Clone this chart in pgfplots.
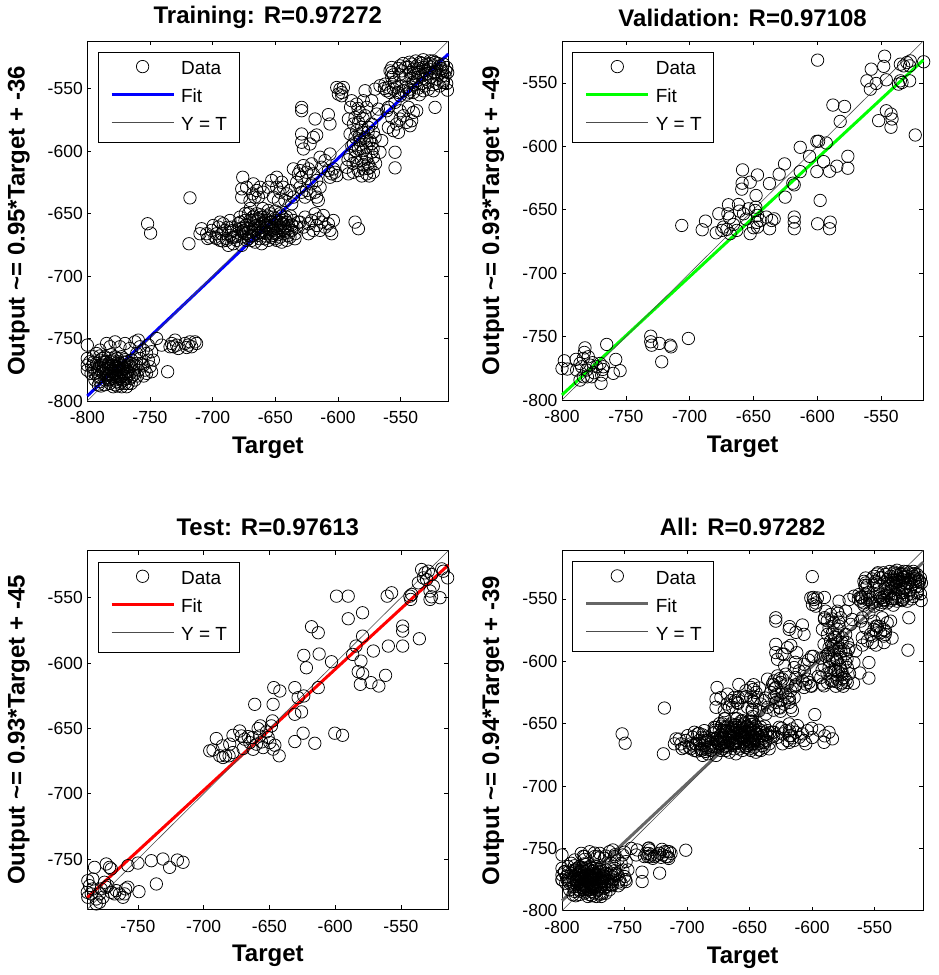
\documentclass[border=0pt]{standalone}
\usepackage{pgfplots}
\pgfplotsset{compat=1.18}
\usepackage{pgfplotstable}
\usepackage{fontspec}
\setmainfont{Liberation Sans}
\setsansfont{Liberation Sans}

\pgfplotstableread{
x y
-557.1 -533.2
-557.1 -537.2
-557.1 -541.2
-558.5 -535.9
-555.8 -539.1
-550.5 -531.9
-549.2 -535.9
-541.2 -530.5
-539.9 -534.5
-537.2 -531.9
-535.9 -537.2
-534.5 -529.2
-531.9 -533.2
-530.5 -535.9
-529.2 -530.5
-527.9 -534.5
-526.6 -527.9
-525.2 -537.2
-523.9 -531.9
-522.6 -529.2
-521.2 -534.5
-519.9 -538.5
-518.6 -531.9
-517.2 -535.9
-515.9 -530.5
-514.6 -539.9
-513.3 -533.2
-512.5 -537.2
-533.2 -539.9
-530.5 -542.5
-537.2 -543.8
-542.5 -537.2
-538.5 -539.9
-526.6 -541.2
-521.2 -542.5
-515.9 -543.8
-512.7 -551.3
-513.3 -546.0
-522.6 -565.1
-544.0 -533.0
-540.0 -538.0
-536.0 -534.0
-533.0 -530.0
-529.0 -538.0
-526.0 -533.0
-523.0 -537.0
-520.0 -530.0
-517.0 -540.0
-528.0 -545.0
-533.0 -546.0
-540.0 -545.0
-521.0 -546.0
-546.0 -540.0
-551.0 -539.0
-514.0 -536.0
-548.0 -530.0
-543.0 -529.0
-538.0 -528.0
-532.0 -527.0
-527.0 -530.0
-524.0 -528.0
-518.0 -534.0
-516.0 -545.0
-519.0 -548.0
-524.0 -547.0
-531.0 -548.0
-536.0 -541.0
-541.0 -542.0
-546.0 -533.0
-552.0 -534.0
-555.0 -545.0
-563.0 -550.0
-549.0 -548.0
-543.0 -553.0
-535.0 -555.0
-570.4 -550.5
-566.5 -547.8
-562.5 -546.5
-559.8 -549.2
-561.1 -551.8
-558.5 -553.2
-555.8 -550.5
-553.2 -549.2
-551.8 -553.2
-547.8 -551.8
-545.2 -549.2
-542.5 -550.5
-539.9 -553.2
-535.9 -549.7
-531.9 -551.8
-527.9 -550.5
-523.9 -551.8
-538.5 -547.0
-545.2 -554.5
-550.5 -555.8
-559.8 -565.1
-561.1 -567.8
-557.1 -573.1
-559.8 -581.1
-555.8 -583.7
-553.2 -578.4
-550.5 -574.4
-547.8 -571.8
-545.2 -577.1
-542.5 -579.8
-541.2 -575.8
-539.9 -569.1
-537.2 -567.8
-550.5 -567.8
-554.5 -561.1
-543.8 -565.1
-551.8 -585.1
-566.5 -601.0
-554.5 -601.0
-554.5 -613.5
-601.0 -549.2
-598.4 -550.5
-597.0 -553.2
-595.7 -549.2
-599.7 -554.5
-597.0 -555.8
-589.1 -559.8
-585.1 -562.5
-579.8 -559.8
-577.1 -565.1
-582.4 -569.1
-578.4 -571.8
-586.4 -573.1
-591.7 -574.4
-587.7 -578.4
-583.7 -577.1
-581.1 -581.1
-585.1 -583.7
-579.8 -585.1
-575.8 -581.1
-573.1 -578.4
-571.8 -585.1
-590.4 -586.4
-586.4 -589.1
-582.4 -591.7
-578.4 -589.1
-574.4 -591.7
-570.4 -589.1
-587.7 -594.4
-583.7 -598.4
-579.8 -599.7
-577.1 -597.0
-573.1 -601.0
-590.4 -603.7
-586.4 -605.0
-581.1 -607.7
-577.1 -606.4
-571.8 -605.0
-591.7 -618.3
-587.7 -617.0
-583.7 -615.7
-579.8 -614.3
-577.1 -618.3
-574.4 -613.0
-593.0 -613.0
-571.8 -617.0
-575.8 -610.3
-567.8 -566.5
-569.1 -570.4
-573.1 -559.8
-565.1 -591.7
-578.4 -551.8
-584.0 -566.0
-580.0 -574.0
-576.0 -585.0
-582.0 -595.0
-586.0 -600.0
-578.0 -603.0
-573.0 -594.0
-588.0 -610.0
-580.0 -611.0
-575.0 -620.0
-590.0 -565.0
-583.0 -588.0
-577.0 -592.0
-572.0 -598.0
-589.0 -596.0
-585.0 -609.0
-576.0 -614.0
-570.0 -610.0
-592.0 -607.0
-581.0 -620.0
-618.3 -574.4
-607.7 -570.9
-606.4 -578.4
-617.0 -587.2
-629.0 -565.1
-629.0 -567.8
-629.0 -586.4
-629.0 -593.0
-627.6 -598.4
-622.3 -594.4
-619.7 -589.1
-614.3 -605.0
-613.0 -613.0
-621.0 -610.3
-610.3 -607.7
-606.4 -602.4
-607.7 -615.7
-605.0 -618.3
-602.4 -617.0
-601.0 -619.7
-606.4 -621.0
-603.7 -614.3
-635.6 -614.3
-631.6 -618.3
-630.3 -615.7
-627.6 -611.7
-625.0 -617.0
-629.0 -621.0
-633.0 -625.0
-623.6 -614.3
-619.7 -618.3
-617.0 -623.6
-621.0 -626.3
-625.0 -631.6
-622.3 -634.3
-618.3 -633.0
-617.0 -636.9
-629.0 -633.0
-626.3 -636.9
-630.3 -629.0
-614.3 -629.0
-615.7 -639.6
-652.9 -623.6
-648.9 -621.0
-644.9 -625.0
-648.9 -629.0
-646.3 -633.0
-643.6 -629.0
-640.9 -634.3
-638.3 -631.6
-651.6 -636.9
-647.6 -639.6
-642.3 -639.6
-655.6 -629.0
-659.6 -633.0
-662.2 -629.0
-664.9 -631.6
-667.5 -626.3
-663.5 -636.9
-666.2 -636.9
-635.6 -636.9
-636.9 -642.3
-676.0 -621.0
-676.8 -630.3
-676.8 -636.9
-670.2 -639.6
-672.9 -629.0
-668.1 -634.3
-718.1 -637.5
-751.9 -658.2
-749.5 -665.7
-718.9 -674.2
-708.8 -662.2
-704.8 -666.2
-700.8 -663.5
-698.1 -668.9
-695.5 -660.9
-692.8 -666.2
-690.1 -663.5
-688.8 -671.5
-686.2 -667.5
-684.8 -660.9
-683.5 -674.2
-680.8 -664.9
-679.5 -658.2
-678.2 -652.9
-676.8 -668.9
-675.5 -660.9
-674.2 -655.6
-672.9 -666.2
-671.5 -650.2
-670.2 -660.9
-668.9 -671.5
-667.5 -655.6
-666.2 -663.5
-664.9 -650.2
-663.5 -667.5
-662.2 -658.2
-660.9 -652.9
-659.6 -663.5
-658.2 -670.2
-656.9 -655.6
-655.6 -647.6
-654.2 -660.9
-652.9 -666.2
-651.6 -652.9
-650.2 -658.2
-648.9 -671.5
-647.6 -663.5
-646.3 -650.2
-644.9 -655.6
-643.6 -666.2
-642.3 -660.9
-640.9 -652.9
-639.6 -659.6
-638.3 -668.9
-636.9 -663.5
-635.6 -655.6
-634.3 -666.2
-633.0 -660.9
-631.6 -656.9
-672.9 -671.5
-667.5 -667.5
-662.2 -670.2
-656.9 -666.2
-651.6 -663.5
-646.3 -668.9
-640.9 -671.5
-680.8 -671.5
-675.5 -663.5
-670.2 -655.6
-664.9 -659.6
-659.6 -652.9
-654.2 -650.2
-648.9 -655.6
-643.6 -658.2
-683.5 -663.5
-686.2 -655.6
-691.5 -658.2
-696.8 -666.2
-699.5 -659.6
-702.1 -668.9
-694.1 -671.5
-687.5 -675.5
-682.2 -668.9
-676.8 -675.5
-671.5 -670.2
-666.2 -672.9
-660.9 -674.2
-655.6 -671.5
-650.2 -670.2
-644.9 -672.9
-639.6 -667.5
-634.3 -670.2
-694.1 -656.9
-710.1 -666.2
-663.5 -654.2
-658.2 -659.6
-652.9 -656.9
-647.6 -659.6
-668.9 -664.9
-658.2 -664.9
-651.6 -667.5
-663.5 -662.2
-674.2 -666.2
-642.3 -663.5
-677.0 -662.0
-673.0 -659.0
-669.0 -668.0
-665.0 -656.0
-661.0 -665.0
-657.0 -661.0
-653.0 -669.0
-649.0 -662.0
-645.0 -652.0
-641.0 -657.0
-637.0 -659.0
-667.0 -652.0
-662.0 -661.0
-658.0 -657.0
-654.0 -663.0
-650.0 -666.0
-646.0 -661.0
-680.0 -668.0
-685.0 -664.0
-689.0 -670.0
-678.0 -657.0
-676.0 -665.0
-674.0 -650.0
-672.0 -662.0
-670.0 -668.0
-668.0 -653.0
-666.0 -660.0
-664.0 -666.0
-662.0 -651.0
-660.0 -658.0
-658.0 -668.0
-656.0 -652.0
-654.0 -657.0
-652.0 -661.0
-650.0 -654.0
-648.0 -667.0
-646.0 -657.0
-644.0 -663.0
-642.0 -655.0
-640.0 -665.0
-638.0 -652.0
-636.0 -660.0
-670.0 -646.0
-660.0 -646.0
-650.0 -648.0
-684.0 -669.0
-688.0 -661.0
-692.0 -672.0
-697.0 -670.0
-704.0 -670.0
-630.3 -656.9
-627.6 -660.9
-626.3 -652.9
-623.6 -658.2
-621.0 -655.6
-619.7 -663.5
-617.0 -659.6
-615.7 -654.2
-613.0 -656.9
-611.7 -651.6
-610.3 -660.9
-607.7 -658.2
-606.4 -663.5
-605.0 -666.2
-618.3 -650.2
-623.6 -666.2
-614.3 -663.5
-603.7 -655.6
-586.4 -656.9
-583.7 -662.2
-800.0 -755.3
-800.0 -766.0
-800.0 -771.3
-800.0 -775.3
-797.9 -768.6
-796.5 -772.6
-795.2 -764.6
-793.9 -777.9
-792.6 -769.9
-791.2 -773.9
-789.9 -767.3
-789.9 -780.6
-788.6 -776.6
-787.2 -771.3
-785.9 -764.6
-785.9 -783.2
-784.6 -773.9
-783.2 -779.3
-781.9 -768.6
-781.9 -785.9
-780.6 -775.3
-779.3 -771.3
-779.3 -781.9
-777.9 -764.6
-777.9 -777.9
-776.6 -772.6
-776.6 -784.6
-775.3 -768.6
-775.3 -780.6
-773.9 -775.3
-773.9 -785.9
-772.6 -771.3
-772.6 -764.6
-771.3 -779.3
-771.3 -783.2
-769.9 -773.9
-768.6 -768.6
-768.6 -780.6
-767.3 -776.6
-767.3 -785.9
-766.0 -772.6
-764.6 -767.3
-764.6 -780.6
-763.3 -775.3
-762.0 -783.2
-784.6 -754.0
-781.9 -756.6
-777.9 -752.7
-773.9 -756.6
-769.9 -754.0
-766.0 -758.0
-762.0 -752.7
-759.3 -751.3
-758.0 -756.6
-755.3 -759.3
-752.7 -762.0
-751.3 -767.3
-750.0 -772.6
-748.7 -776.6
-758.0 -766.0
-755.3 -771.3
-754.0 -775.3
-751.3 -755.3
-748.7 -760.6
-747.3 -767.3
-752.7 -777.9
-760.6 -769.9
-759.3 -775.3
-789.9 -759.3
-792.6 -762.0
-793.9 -783.2
-791.2 -787.2
-760.6 -762.0
-789.9 -784.6
-779.3 -788.6
-772.6 -788.6
-768.6 -788.6
-789.9 -772.6
-787.2 -777.9
-784.6 -768.6
-783.2 -783.2
-780.6 -771.3
-777.9 -773.9
-776.6 -779.3
-775.3 -775.3
-773.9 -769.9
-772.6 -780.6
-771.3 -773.9
-769.9 -777.9
-781.9 -777.9
-779.3 -776.6
-785.9 -775.3
-788.6 -771.3
-783.2 -772.6
-780.6 -780.6
-777.9 -783.2
-775.3 -771.3
-767.3 -771.3
-766.0 -777.9
-794.0 -775.0
-791.0 -781.0
-788.0 -766.0
-786.0 -787.0
-784.0 -781.0
-782.0 -774.0
-781.0 -763.0
-779.0 -767.0
-778.0 -787.0
-776.0 -766.0
-774.0 -782.0
-773.0 -777.0
-771.0 -769.0
-770.0 -786.0
-768.0 -773.0
-766.0 -782.0
-765.0 -770.0
-763.0 -779.0
-761.0 -772.0
-787.0 -774.0
-783.0 -770.0
-777.0 -781.0
-775.0 -773.0
-772.0 -775.0
-769.0 -782.0
-797.0 -778.0
-795.0 -769.0
-792.0 -777.0
-790.0 -764.0
-789.0 -788.0
-786.0 -769.0
-785.0 -779.0
-782.0 -783.0
-780.0 -768.0
-778.0 -776.0
-776.0 -788.0
-774.0 -771.0
-772.0 -784.0
-770.0 -767.0
-768.0 -777.0
-765.0 -786.0
-763.0 -771.0
-760.0 -780.0
-757.0 -770.0
-755.0 -780.0
-740.7 -755.3
-735.9 -776.6
-744.7 -750.0
-732.7 -754.0
-731.4 -756.6
-730.0 -751.3
-728.7 -755.3
-727.4 -758.0
-734.0 -756.6
-722.1 -754.0
-719.4 -755.3
-718.1 -752.7
-716.7 -756.6
-714.1 -752.7
-712.8 -754.0
-720.7 -757.2
}\trainData

\pgfplotstableread{
x y
-599.8 -532.1
-547.3 -529.0
-557.8 -539.2
-548.0 -537.0
-561.2 -548.4
-558.5 -555.0
-553.9 -550.5
-546.0 -547.6
-535.0 -535.3
-532.4 -536.6
-529.8 -534.0
-527.2 -532.7
-527.7 -536.6
-535.0 -548.4
-536.4 -551.0
-533.7 -549.7
-527.7 -548.4
-516.7 -533.4
-523.3 -591.1
-552.0 -579.8
-546.0 -572.0
-542.3 -574.6
-541.5 -578.5
-542.3 -585.0
-587.8 -567.5
-578.7 -568.6
-582.1 -580.4
-613.4 -600.8
-600.4 -596.1
-599.0 -596.0
-593.0 -597.4
-606.1 -607.9
-595.1 -612.1
-600.4 -620.0
-590.4 -619.7
-584.7 -615.7
-576.1 -607.9
-576.1 -617.3
-625.7 -613.9
-613.4 -620.0
-629.9 -622.0
-619.2 -629.1
-618.1 -630.4
-625.2 -640.1
-637.5 -629.4
-646.9 -622.6
-648.0 -638.8
-658.6 -618.6
-658.9 -629.1
-659.2 -633.8
-652.6 -628.3
-597.8 -642.7
-599.8 -661.1
-589.9 -659.8
-590.4 -665.0
-618.1 -655.8
-618.1 -659.8
-618.1 -665.0
-677.2 -653.2
-687.6 -659.0
-690.2 -665.8
-679.2 -668.2
-673.5 -663.7
-669.6 -646.1
-670.1 -653.2
-668.8 -656.4
-670.9 -665.5
-668.3 -668.9
-674.8 -666.3
-661.8 -645.9
-661.0 -651.1
-657.8 -653.2
-655.8 -657.4
-652.6 -668.9
-648.2 -648.0
-648.7 -650.6
-646.9 -654.5
-647.4 -660.0
-644.8 -658.5
-639.9 -655.8
-637.4 -665.0
-635.7 -658.5
-633.8 -657.2
-663.1 -666.3
-653.9 -649.3
-650.0 -664.2
-646.9 -663.7
-706.2 -662.4
-665.7 -661.6
-730.5 -749.7
-730.5 -754.1
-729.7 -756.8
-723.7 -755.4
-715.3 -756.8
-714.6 -758.1
-701.0 -751.5
-721.9 -769.9
-765.0 -756.2
-798.2 -769.1
-800.0 -775.1
-795.8 -775.6
-789.0 -768.0
-785.9 -771.2
-782.0 -758.9
-782.5 -762.5
-783.3 -767.2
-784.6 -773.8
-780.7 -776.4
-778.1 -772.5
-776.0 -770.6
-780.1 -781.7
-783.3 -781.7
-785.9 -784.3
-776.7 -781.7
-774.9 -778.5
-772.8 -773.8
-770.2 -771.2
-768.1 -775.9
-768.9 -780.3
-769.4 -786.9
-767.6 -773.8
-759.8 -779.0
-757.9 -768.0
-754.5 -776.9
-788.5 -776.4
-779.4 -765.9
}\valData

\pgfplotstableread{
x y
-534.3 -528.4
-531.7 -531.0
-529.2 -529.7
-526.7 -532.2
-533.0 -534.8
-536.8 -538.6
-530.5 -536.1
-519.0 -527.9
-517.8 -529.7
-514.5 -534.8
-525.4 -541.1
-527.9 -544.9
-526.7 -549.3
-527.9 -551.3
-520.3 -550.0
-543.2 -548.8
-542.6 -551.3
-541.8 -547.5
-557.1 -546.2
-560.5 -548.8
-599.0 -548.8
-590.1 -548.8
-590.1 -566.1
-579.2 -561.5
-579.2 -579.4
-548.7 -571.7
-548.7 -575.5
-548.7 -587.0
-559.6 -587.0
-536.0 -581.4
-571.0 -590.8
-584.2 -587.0
-586.7 -593.4
-580.4 -598.5
-582.5 -606.6
-579.1 -608.1
-580.9 -616.3
-572.8 -615.0
-566.8 -617.6
-561.7 -609.4
-602.8 -599.0
-618.0 -572.2
-612.9 -576.8
-623.9 -594.1
-612.2 -593.1
-621.9 -603.6
-612.9 -618.8
-630.7 -618.8
-628.2 -626.5
-623.9 -625.2
-625.6 -637.4
-630.7 -639.2
-642.1 -621.4
-646.7 -618.8
-661.2 -631.6
-647.2 -631.6
-600.3 -653.7
-594.4 -655.3
-624.4 -653.7
-630.7 -660.1
-615.5 -661.4
-695.4 -667.2
-690.4 -657.8
-692.9 -666.5
-687.8 -671.0
-685.3 -672.3
-683.3 -671.0
-680.7 -671.0
-685.8 -663.4
-680.2 -662.1
-677.7 -655.3
-672.6 -652.0
-671.3 -655.8
-670.0 -665.4
-668.8 -658.3
-666.2 -656.3
-664.9 -660.9
-662.9 -657.0
-659.9 -662.1
-658.6 -650.2
-656.9 -648.1
-657.4 -655.8
-656.1 -660.4
-654.8 -664.7
-652.3 -652.7
-651.0 -657.0
-649.7 -660.9
-648.5 -648.1
-647.7 -644.3
-645.9 -662.9
-647.2 -665.9
-642.6 -671.0
-662.4 -666.0
-677.7 -668.5
-739.8 -751.3
-731.0 -750.0
-725.9 -756.4
-720.0 -750.8
-715.7 -752.5
-736.0 -769.1
-749.2 -775.0
-750.0 -753.1
-757.6 -755.1
-757.6 -771.6
-783.0 -756.4
-774.1 -753.8
-771.6 -756.4
-770.3 -757.6
-788.1 -766.6
-786.8 -770.4
-784.3 -765.3
-785.5 -776.7
-788.1 -779.3
-781.7 -780.6
-781.7 -784.4
-779.2 -776.7
-777.9 -772.9
-776.6 -779.3
-775.4 -767.8
-774.1 -771.6
-770.3 -775.5
-767.8 -776.7
-766.5 -774.2
-764.0 -776.7
-761.4 -779.3
-760.2 -776.7
-759.4 -772.9
-784.3 -772.9
-788.5 -775.5
-779.2 -783.1
-772.8 -770.4
}\testData

\pgfplotsset{
  regstyle/.style={
    scale only axis, width=361pt, height=360pt,
    xmin=-800, xmax=-512, ymin=-800, ymax=-512,
    xtick={-800,-750,...,-550}, ytick={-800,-750,...,-550},
    tick align=inside, major tick length=4pt,
    axis line style={line width=0.8pt},
    every tick/.style={black, line width=0.6pt},
    clip=false,
    /pgf/number format/assume math mode=true,
    tick label style={font=\fontsize{17.5}{20}\selectfont},
    xticklabel style={yshift=-7pt},
    yticklabel style={xshift=-1pt},
    every axis title/.style={font=\bfseries\fontsize{24}{28}\selectfont, at={(axis description cs:0.5,1.065)}, anchor=center},
    every axis x label/.style={font=\bfseries\fontsize{24}{28}\selectfont, at={(axis description cs:0.5,-0.13)}, anchor=center},
    every axis y label/.style={font=\bfseries\fontsize{24}{28}\selectfont, at={(axis description cs:-0.19,0.5)}, anchor=center, rotate=90},
    xlabel={Target},
    legend style={at={(0,1)}, anchor=north west, xshift=10.4pt, yshift=-11pt,
      draw=black, line width=0.8pt, fill=white,
      font=\fontsize{19}{22}\selectfont, legend cell align=left,
      inner xsep=12pt, inner ysep=8pt, row sep=10.6pt,
      nodes={inner sep=0pt, text height=13.5pt, text depth=3.8pt},
      /tikz/every odd column/.append style={column sep=6pt}},
  },
  datastyle/.style={only marks, mark=o, mark size=6.2pt, mark options={black, line width=0.75pt},
    legend image code/.code={\draw[mark repeat=2,mark phase=2,##1] plot coordinates {(0pt,3.5pt)(31pt,3.5pt)(62pt,3.5pt)};}},
  linestyle/.style={legend image code/.code={\draw[##1] (0pt,3.5pt) -- (62pt,3.5pt);}},
}

\begin{document}
\begin{tikzpicture}
\useasboundingbox (0pt,0pt) rectangle (939pt,975pt);

% Training
\begin{axis}[regstyle, at={(87.3pt,574pt)}, anchor=south west,
  title={Training: R=0.97272}, ylabel={Output \textasciitilde= 0.95*Target + -36}]
\addplot[datastyle] table {\trainData};
\addlegendentry{Data}
\addplot[linestyle, color={rgb,255:red,0;green,0;blue,255}, line width=3pt] coordinates {(-800,-796) (-512,-522.4)};
\addlegendentry{Fit}
\addplot[linestyle, color=black!70, line width=0.6pt] coordinates {(-800,-800) (-512,-512)};
\addlegendentry{Y = T}
\end{axis}

% Validation
\begin{axis}[regstyle, at={(562pt,575pt)}, anchor=south west, width=361.3pt, height=359pt,
  xmax=-517, ymax=-517,
  title={Validation: R=0.97108}, ylabel={Output \textasciitilde= 0.93*Target + -49}]
\addplot[datastyle] table {\valData};
\addlegendentry{Data}
\addplot[linestyle, color={rgb,255:red,0;green,255;blue,0}, line width=3pt] coordinates {(-800,-796) (-517,-532)};
\addlegendentry{Fit}
\addplot[linestyle, color=black!70, line width=0.6pt] coordinates {(-800,-800) (-517,-517)};
\addlegendentry{Y = T}
\end{axis}

% Test
\begin{axis}[regstyle, at={(87.3pt,65.7pt)}, anchor=south west, width=361pt, height=358.6pt,
  xmin=-788.5, xmax=-514, ymin=-788.5, ymax=-514,
  title={Test: R=0.97613}, ylabel={Output \textasciitilde= 0.93*Target + -45}]
\addplot[datastyle] table {\testData};
\addlegendentry{Data}
\addplot[linestyle, color={rgb,255:red,255;green,0;blue,0}, line width=3pt] coordinates {(-788.5,-779.5) (-514,-525)};
\addlegendentry{Fit}
\addplot[linestyle, color=black!70, line width=0.6pt] coordinates {(-788.5,-788.5) (-514,-514)};
\addlegendentry{Y = T}
\end{axis}

% All
\begin{axis}[regstyle, at={(562pt,64.3pt)}, anchor=south west, width=361.3pt, height=360.4pt,
  xmax=-511, ymax=-511,
  title={All: R=0.97282}, ylabel={Output \textasciitilde= 0.94*Target + -39}]
\addplot[datastyle] table {\trainData};
\addlegendentry{Data}
\addplot[datastyle, forget plot] table {\valData};
\addplot[datastyle, forget plot] table {\testData};
\addplot[linestyle, color=black!60, line width=3pt] coordinates {(-800,-792) (-511,-520.5)};
\addlegendentry{Fit}
\addplot[linestyle, color=black!70, line width=0.6pt] coordinates {(-800,-800) (-511,-511)};
\addlegendentry{Y = T}
\end{axis}
\end{tikzpicture}
\end{document}
